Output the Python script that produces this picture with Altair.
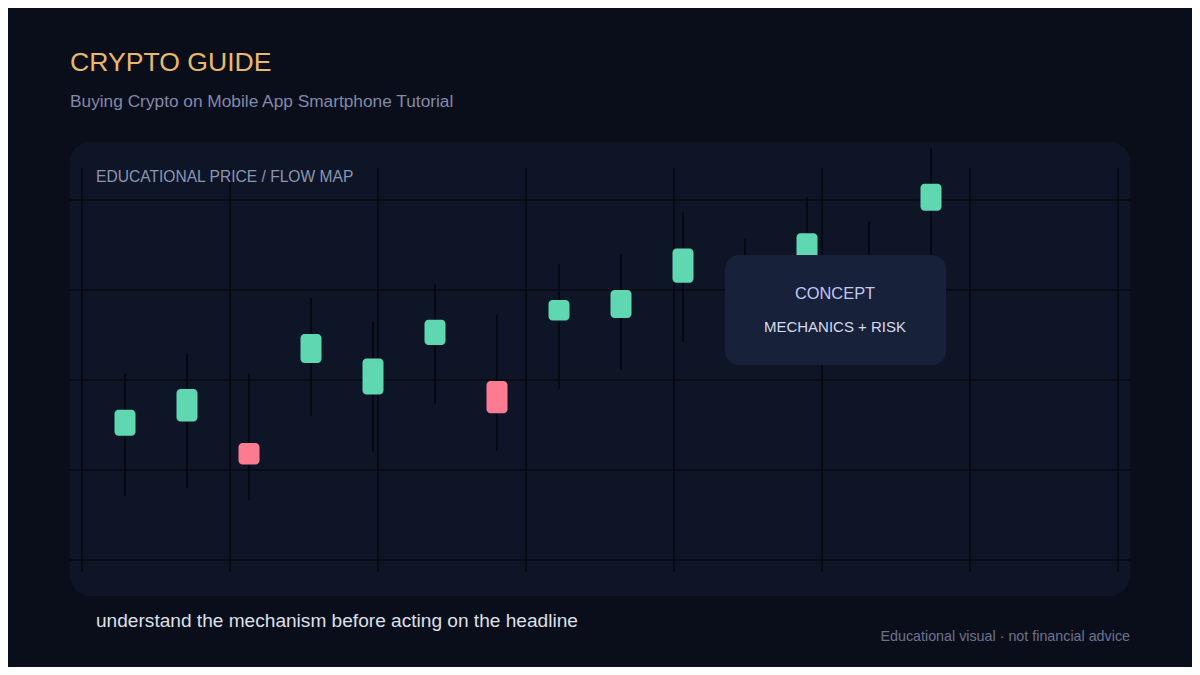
import altair as alt
import pandas as pd

# ---------------- data ----------------
candle_index = list(range(14))
opens  = [113.8, 115.4, 113.0, 121.9, 118.4, 123.9, 119.9, 126.6, 126.9, 130.8, 130.2, 132.5, 130.5, 138.8]
closes = [116.7, 119.0, 110.6, 125.1, 122.4, 126.7, 116.3, 128.9, 130.0, 134.6, 133.0, 136.3, 133.5, 141.8]
highs  = [120.7, 123.0, 120.7, 129.1, 126.5, 130.7, 127.3, 132.9, 134.0, 138.6, 135.7, 140.3, 137.6, 145.8]
lows   = [107.1, 108.0, 106.6, 116.0, 112.0, 117.3, 112.1, 119.0, 121.2, 124.2, 125.0, 128.0, 127.0, 133.0]
price_grid = [100, 110, 120, 130, 140]
column_grid = [0, 1, 2, 3, 4, 5, 6, 7]

title_text = "CRYPTO GUIDE"
subtitle_text = "Buying Crypto on Mobile App Smartphone Tutorial"
panel_label = "EDUCATIONAL PRICE / FLOW MAP"
concept_title = "CONCEPT"
concept_sub = "MECHANICS + RISK"
footer_text = "understand the mechanism before acting on the headline"
disclaimer_text = "Educational visual \u00b7 not financial advice"

# ---------------- styles ----------------
BG = "#0a0e1a"
PANEL = "#0e1526"
GRID = "#020408"
BOX = "#18213a"
GREEN = "#5fd8b2"
RED = "#fd7b91"
FONT = "Liberation Sans"

candles = pd.DataFrame({
    "i": candle_index, "open": opens, "close": closes, "high": highs, "low": lows,
})
candles["dir"] = ["up" if c >= o else "down" for o, c in zip(opens, closes)]

xs = alt.Scale(domain=[0, 13], range=[117, 923], padding=0)
ys = alt.Scale(domain=[100, 140], range=[552, 192], padding=0)
one = pd.DataFrame({"k": [0]})

panel = alt.Chart(one).mark_rect(cornerRadius=20, color=PANEL).encode(
    x=alt.value(62), x2=alt.value(1122), y=alt.value(134), y2=alt.value(588)
)

vgrid = alt.Chart(pd.DataFrame({"gx": column_grid})).mark_rule(color=GRID, strokeWidth=1.2).encode(
    x=alt.X("gx:Q", scale=alt.Scale(domain=[0, 7], range=[74, 1110], padding=0), axis=None),
    y=alt.value(160), y2=alt.value(564),
)

hgrid = alt.Chart(pd.DataFrame({"gp": price_grid})).mark_rule(color=GRID, strokeWidth=1.2).encode(
    y=alt.Y("gp:Q", scale=ys, axis=None),
    x=alt.value(62), x2=alt.value(1122),
)

wicks = alt.Chart(candles).mark_rule(color=GRID, strokeWidth=1.3).encode(
    x=alt.X("i:Q", scale=xs, axis=None),
    y=alt.Y("low:Q", scale=ys, axis=None),
    y2="high:Q",
)

bodies = alt.Chart(candles).mark_bar(size=21, cornerRadius=4).encode(
    x=alt.X("i:Q", scale=xs, axis=None),
    y=alt.Y("open:Q", scale=ys, axis=None),
    y2="close:Q",
    color=alt.Color("dir:N", scale=alt.Scale(domain=["up", "down"], range=[GREEN, RED]), legend=None),
)

box = alt.Chart(one).mark_rect(cornerRadius=14, color=BOX).encode(
    x=alt.value(717), x2=alt.value(938), y=alt.value(247), y2=alt.value(357)
)

def txt(s, x, y, size, color, align="left"):
    return alt.Chart(one).mark_text(
        align=align, baseline="middle", fontSize=size, font=FONT, color=color
    ).encode(x=alt.value(x), y=alt.value(y), text=alt.value(s))

texts = [
    txt(title_text, 62, 55, 26.6, "#e9b86c"),
    txt(subtitle_text, 62, 94, 17.3, "#8289aa"),
    txt(panel_label, 88, 169, 15.6, "#8a95b2"),
    txt(concept_title, 827, 286, 16.4, "#c3c6f3", "center"),
    txt(concept_sub, 827, 319, 15, "#d5daf0", "center"),
    txt(footer_text, 88, 613, 19.1, "#dde0ea"),
    txt(disclaimer_text, 1122, 629, 14.3, "#6c7390", "right"),
]

chart = alt.layer(panel, vgrid, hgrid, wicks, bodies, box, *texts).resolve_scale(
    x="independent"
).properties(
    width=1184, height=659, background=BG, padding=0,
    autosize=alt.AutoSizeParams(type="none"),
).configure_view(strokeWidth=0)

chart.save("out.html", embed_options={"renderer": "svg", "actions": False})
